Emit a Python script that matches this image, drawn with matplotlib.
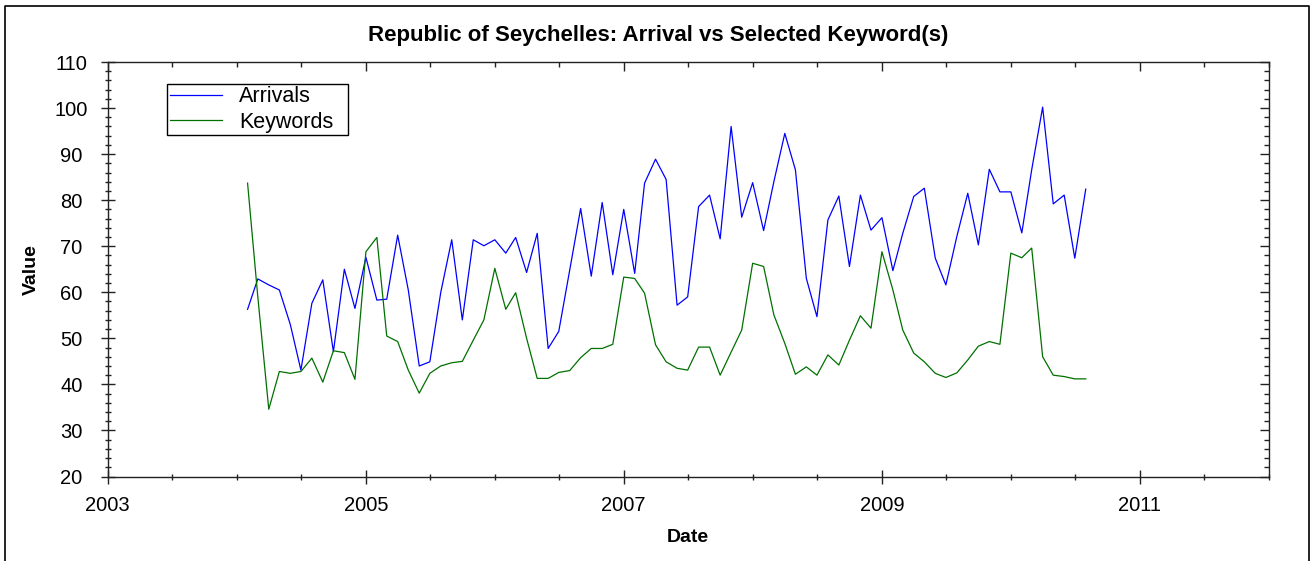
import numpy as np
import pandas as pd
import matplotlib
matplotlib.use("Agg")
import matplotlib.pyplot as plt
import matplotlib.dates as mdates
from matplotlib.ticker import FixedLocator
from matplotlib.lines import Line2D
from matplotlib.patches import Rectangle

plt.rcParams['font.family'] = ['Liberation Sans', 'DejaVu Sans']

# ---- data ----
start_month = "2004-02-01"
arrivals = [56.3, 62.9, 61.6, 60.5, 53.0, 43.1, 57.6, 62.7, 47.1, 65.0,
            56.5, 67.6, 58.3, 58.5, 72.4, 60.5, 44.0, 44.9, 60.0, 71.4,
            54.0, 71.4, 70.1, 71.4, 68.5, 71.9, 64.3, 72.8, 47.8, 51.5,
            64.8, 78.2, 63.5, 79.5, 63.8, 78.0, 64.1, 83.7, 88.9, 84.5,
            57.2, 59.0, 78.6, 81.1, 71.6, 96.0, 76.3, 83.8, 73.4, 84.0,
            94.5, 86.6, 63.0, 54.7, 75.7, 80.9, 65.6, 81.1, 73.5, 76.2,
            64.7, 72.8, 80.8, 82.6, 67.4, 61.6, 72.1, 81.5, 70.3, 86.7,
            81.8, 81.8, 72.9, 86.6, 100.2, 79.2, 81.1, 67.4, 82.4]
keywords = [83.7, 59.0, 34.6, 42.8, 42.4, 42.8, 45.7, 40.5, 47.3, 46.9,
            41.1, 68.8, 71.9, 50.5, 49.3, 43.1, 38.1, 42.4, 44.0, 44.7,
            45.0, 49.6, 54.0, 65.2, 56.3, 59.9, 50.0, 41.3, 41.3, 42.6,
            43.0, 45.8, 47.8, 47.8, 48.7, 63.3, 63.0, 59.8, 48.6, 44.9,
            43.5, 43.1, 48.1, 48.1, 42.0, 47.0, 51.8, 66.3, 65.6, 55.1,
            48.9, 42.2, 43.8, 42.0, 46.4, 44.2, 49.6, 54.9, 52.2, 68.8,
            60.5, 51.8, 46.8, 44.9, 42.4, 41.5, 42.5, 45.3, 48.3, 49.3,
            48.7, 68.5, 67.5, 69.6, 46.0, 42.0, 41.7, 41.2, 41.2]
series_labels = ["Arrivals", "Keywords"]
major_years = [2003, 2005, 2007, 2009, 2011]
title = "Republic of Seychelles: Arrival vs Selected Keyword(s)"
x_label = "Date"
y_label = "Value"

dates = pd.date_range(start_month, periods=len(arrivals), freq="MS")

W, H = 1312, 561
L, R, T, B = 107.7, 1268.7, 62.0, 476.5
fig = plt.figure(figsize=(W / 100, H / 100), dpi=100)
ax = fig.add_axes([L / W, 1 - B / H, (R - L) / W, (B - T) / H])

ax.plot(dates, arrivals, color="#0000ff", lw=0.9, label=series_labels[0])
ax.plot(dates, keywords, color="#007000", lw=0.9, label=series_labels[1])

ax.set_xlim(pd.Timestamp("2003-01-01"), pd.Timestamp("2012-01-01"))
ax.set_ylim(20, 110)

major_x = mdates.date2num([pd.Timestamp(f"{y}-01-01") for y in major_years])
minor_x = mdates.date2num(list(pd.date_range("2003-01-01", "2012-01-01", freq="6MS")))
ax.xaxis.set_major_locator(FixedLocator(major_x))
ax.xaxis.set_major_formatter(mdates.DateFormatter("%Y"))
ax.xaxis.set_minor_locator(FixedLocator(minor_x))
ax.yaxis.set_major_locator(plt.MultipleLocator(10))
ax.yaxis.set_minor_locator(plt.MultipleLocator(2))

for s in ax.spines.values():
    s.set_color("#222222")
    s.set_linewidth(1.0)

ax.tick_params(which="major", direction="inout", length=10, width=1, labelsize=14.5,
               top=False, right=False, color="#222222")
ax.tick_params(which="minor", direction="inout", length=5, width=1,
               top=False, right=False, color="#222222")
ax.tick_params(axis="x", which="major", pad=9)
ax.tick_params(axis="y", which="major", pad=21)
for lbl in ax.get_yticklabels():
    lbl.set_horizontalalignment("center")

# top / right inward ticks
sx = ax.secondary_xaxis("top")
sx.xaxis.set_major_locator(FixedLocator(major_x))
sx.xaxis.set_minor_locator(FixedLocator(minor_x))
sx.tick_params(which="major", direction="in", length=6.5, width=1, labeltop=False, color="#222222")
sx.tick_params(which="minor", direction="in", length=3.5, width=1, color="#222222")
sx.spines["top"].set_visible(False)
sy = ax.secondary_yaxis("right")
sy.yaxis.set_major_locator(plt.MultipleLocator(10))
sy.yaxis.set_minor_locator(plt.MultipleLocator(2))
sy.tick_params(which="major", direction="in", length=6.5, width=1, labelright=False, color="#222222")
sy.tick_params(which="minor", direction="in", length=3.5, width=1, color="#222222")
sy.spines["right"].set_visible(False)

ax.set_xlabel(x_label, fontsize=14, fontweight="bold")
ax.set_ylabel(y_label, fontsize=14, fontweight="bold")
ax.xaxis.set_label_coords((688 - L) / (R - L), -(529 - B) / (B - T))
ax.yaxis.set_label_coords(-(L - 40) / (R - L), 0.5)
fig.text(658 / W, 1 - 35 / H, title, ha="center", va="center", fontsize=16, fontweight="bold")

leg = ax.legend(loc="upper left", bbox_to_anchor=(167 / W, 1 - 83 / H),
                bbox_transform=fig.transFigure, fontsize=15.5, frameon=False,
                borderpad=0.15, labelspacing=0.2,
                handlelength=2.4, handletextpad=0.8, borderaxespad=0)
fig.add_artist(Rectangle((167 / W, 1 - 135 / H), (348 - 167) / W, (135 - 84) / H,
                         transform=fig.transFigure, fill=False, edgecolor="black", lw=1.0))

# figure border
fig.add_artist(Line2D([5 / W, 5 / W, 1308.7 / W, 1308.7 / W],
                      [0, 1 - 6 / H, 1 - 6 / H, 0], transform=fig.transFigure,
                      color="black", lw=1.2))

fig.savefig("out.png", dpi=100)
